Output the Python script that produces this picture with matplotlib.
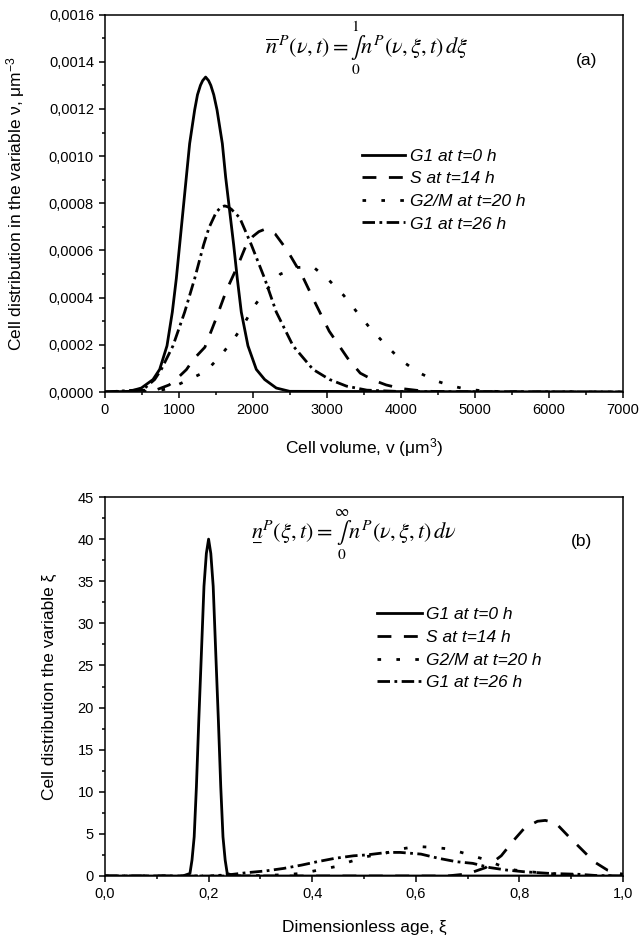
import matplotlib
matplotlib.use('Agg')
import matplotlib.pyplot as plt
from matplotlib.ticker import MultipleLocator, FuncFormatter

plt.rcParams['font.family'] = ['Liberation Sans', 'DejaVu Sans']
plt.rcParams['mathtext.fontset'] = 'custom'
plt.rcParams['mathtext.rm'] = 'Liberation Sans'
plt.rcParams['mathtext.it'] = 'Liberation Sans:italic'

labels = ['G1 at t=0 h', 'S at t=14 h', 'G2/M at t=20 h', 'G1 at t=26 h']

# (a) distribution over cell volume
v_g1_0 = [0, 333, 491, 649, 739, 838, 910, 964, 1009, 1054, 1099, 1144, 1212, 1250, 1290, 1320,
          1360, 1400, 1430, 1470, 1514, 1586, 1631, 1685, 1739, 1788, 1842, 1932, 2045, 2158,
          2315, 2495, 7000]
n_g1_0 = [0, 0.000003, 0.000017, 0.000053, 0.000096, 0.000196, 0.000339, 0.000481, 0.000624,
          0.000767, 0.00091, 0.001053, 0.001196, 0.00126, 0.0013, 0.00132, 0.001335, 0.00132,
          0.0013, 0.00126, 0.001196, 0.001053, 0.00091, 0.000767, 0.000624, 0.000481, 0.000339,
          0.000196, 0.000096, 0.000053, 0.000017, 0.000003, 0]

v_s_14 = [0, 700, 866, 950, 1100, 1200, 1350, 1500, 1640, 1800, 1910, 2000, 2080, 2160, 2230,
          2300, 2464, 2670, 2850, 3030, 3280, 3450, 3630, 3800, 4000, 4300, 4600, 7000]
n_s_14 = [0, 0.00001, 0.00003, 0.00005, 0.000095, 0.00014, 0.00019, 0.00031, 0.00043, 0.00054,
          0.000624, 0.00066, 0.00068, 0.00069, 0.000685, 0.00067, 0.0006, 0.00049, 0.000372,
          0.000258, 0.000143, 0.00008, 0.00005, 0.00003, 0.000015, 0.000004, 0.000001, 0]

v_g2m_20 = [0, 672, 893, 1114, 1362, 1560, 1740, 1885, 2015, 2180, 2370, 2600, 2811, 3015, 3225,
            3412, 3585, 3800, 4000, 4220, 4450, 4670, 4885, 5110, 5330, 5600, 7000]
n_g2m_20 = [0, 0.000003, 0.000017, 0.00005, 0.000087, 0.000153, 0.000224, 0.000292, 0.000364,
            0.000432, 0.0005, 0.000528, 0.000531, 0.000478, 0.00041, 0.000336, 0.00027, 0.000198,
            0.000135, 0.000086, 0.00005, 0.000027, 0.000012, 0.000005, 0.000002, 0, 0]

v_g1_26 = [0, 514, 671, 761, 919, 1077, 1212, 1333, 1405, 1500, 1560, 1617, 1660, 1707, 1820,
           1978, 2158, 2315, 2541, 2811, 3036, 3264, 3539, 4000, 7000]
n_g1_26 = [0, 0.00001, 0.000053, 0.000096, 0.000196, 0.000339, 0.000481, 0.000624, 0.000696,
           0.00076, 0.000782, 0.000789, 0.000785, 0.000775, 0.000739, 0.000624, 0.000481,
           0.000339, 0.000196, 0.000096, 0.000053, 0.000025, 0.000008, 0.000002, 0]

# (b) distribution over dimensionless age
xi_g1_0 = [0, 0.15, 0.164, 0.168, 0.1722, 0.1765, 0.1811, 0.1861, 0.1911, 0.1957, 0.2, 0.2043,
           0.2089, 0.2139, 0.2189, 0.2235, 0.2278, 0.232, 0.236, 0.25, 1.0]
m_g1_0 = [0, 0, 0.3, 1.9, 4.65, 10.6, 18.5, 26.4, 34.4, 38.3, 40, 38.3, 34.4, 26.4, 18.5, 10.6,
          4.65, 1.9, 0.3, 0, 0]

xi_s_14 = [0, 0.66, 0.70, 0.735, 0.765, 0.79, 0.81, 0.835, 0.85, 0.87, 0.895, 0.918, 0.944,
           0.97, 1.0]
m_s_14 = [0, 0, 0.25, 1.0, 2.4, 4.3, 5.7, 6.5, 6.6, 6.3, 4.7, 3.3, 1.7, 0.7, 0.2]

xi_g2m_20 = [0, 0.25, 0.3, 0.345, 0.379, 0.412, 0.444, 0.473, 0.505, 0.541, 0.57, 0.602, 0.634,
             0.666, 0.699, 0.731, 0.76, 0.776, 0.792, 0.821, 0.854, 0.886, 0.93, 1.0]
m_g2m_20 = [0, 0, 0.05, 0.15, 0.3, 0.7, 1.1, 1.7, 2.3, 2.7, 3.2, 3.5, 3.4, 3.2, 2.6, 2.0, 1.3,
            0.9, 0.7, 0.5, 0.3, 0.2, 0.05, 0]

xi_g1_26 = [0, 0.2, 0.24, 0.275, 0.31, 0.345, 0.38, 0.41, 0.444, 0.48, 0.505, 0.545, 0.57, 0.61,
            0.644, 0.678, 0.71, 0.743, 0.776, 0.81, 0.86, 0.915, 0.95, 1.0]
m_g1_26 = [0, 0, 0.15, 0.4, 0.6, 0.9, 1.3, 1.7, 2.1, 2.4, 2.5, 2.8, 2.8, 2.6, 2.1, 1.7, 1.5,
           1.0, 0.7, 0.5, 0.3, 0.2, 0.05, 0]

lw = 2.0
styles = [dict(linestyle='-'),
          dict(linestyle=(0, (5, 4.5))),
          dict(linestyle=(0, (1.3, 5.5))),
          dict(linestyle=(0, (4.5, 1.6, 1, 1.6)))]

fig = plt.figure(figsize=(6.39, 9.39), dpi=100)
ax1 = fig.add_axes([0.1643, 0.5825, 0.8106, 0.402])
ax2 = fig.add_axes([0.1643, 0.0671, 0.8106, 0.4036])

for xs, ys, lab, st in zip([v_g1_0, v_s_14, v_g2m_20, v_g1_26],
                           [n_g1_0, n_s_14, n_g2m_20, n_g1_26], labels, styles):
    ax1.plot(xs, ys, color='black', lw=lw, label=lab, **st)

for xs, ys, lab, st in zip([xi_g1_0, xi_s_14, xi_g2m_20, xi_g1_26],
                           [m_g1_0, m_s_14, m_g2m_20, m_g1_26], labels, styles):
    ax2.plot(xs, ys, color='black', lw=lw, label=lab, **st)

ax1.set_xlim(0, 7000)
ax1.set_ylim(0, 0.0016)
ax1.xaxis.set_major_locator(MultipleLocator(1000))
ax1.xaxis.set_minor_locator(MultipleLocator(500))
ax1.yaxis.set_major_locator(MultipleLocator(0.0002))
ax1.yaxis.set_minor_locator(MultipleLocator(0.0001))
ax1.yaxis.set_major_formatter(FuncFormatter(lambda v, p: f"{v:.4f}".replace('.', ',')))
ax1.xaxis.set_major_formatter(FuncFormatter(lambda v, p: f"{v:.0f}"))

ax2.set_xlim(0, 1)
ax2.set_ylim(0, 45)
ax2.xaxis.set_major_locator(MultipleLocator(0.2))
ax2.xaxis.set_minor_locator(MultipleLocator(0.1))
ax2.yaxis.set_major_locator(MultipleLocator(5))
ax2.yaxis.set_minor_locator(MultipleLocator(2.5))
ax2.xaxis.set_major_formatter(FuncFormatter(lambda v, p: f"{v:.1f}".replace('.', ',')))
ax2.yaxis.set_major_formatter(FuncFormatter(lambda v, p: f"{v:.0f}"))

for ax in (ax1, ax2):
    for s in ax.spines.values():
        s.set_linewidth(1.1)
    ax.tick_params(which='both', direction='out', top=False, right=False, width=1.1)
    ax.tick_params(which='major', length=4.5, labelsize=10.5)
    ax.tick_params(which='minor', length=2.5)

ax1.set_xlabel(r"Cell volume, v ($\mathrm{\mu}$m$^3$)", fontsize=12.5, va='center')
ax1.xaxis.set_label_coords(0.5, -0.146)
ax1.set_ylabel(r"Cell distribution in the variable ν, μm$^{-3}$", fontsize=12.5, va='center')
ax1.yaxis.set_label_coords(-0.172, 0.5)

ax2.set_xlabel("Dimensionless age, ξ", fontsize=12.5, va='center')
ax2.xaxis.set_label_coords(0.5, -0.135)
ax2.set_ylabel("Cell distribution the variable ξ", fontsize=12.5, va='center')
ax2.yaxis.set_label_coords(-0.108, 0.5)

leg_font = dict(style='italic', size=12.5)
ax1.legend(loc='upper left', bbox_to_anchor=(0.496, 0.645), frameon=False, prop=leg_font,
           handlelength=2.5, handletextpad=0.25, labelspacing=0.43, borderpad=0, borderaxespad=0)
ax2.legend(loc='upper left', bbox_to_anchor=(0.525, 0.709), frameon=False, prop=leg_font,
           handlelength=2.6, handletextpad=0.25, labelspacing=0.43, borderpad=0, borderaxespad=0)

ax1.text(0.505, 0.912,
         r"$\overline{n}^{\,P}(\nu,t)=\underset{0}{\overset{1}{\int}}n^{P}(\nu,\xi,t)\,d\xi$",
         transform=ax1.transAxes, ha='center', va='center', fontsize=16, math_fontfamily='stix')
ax2.text(0.48, 0.9,
         r"$\underset{-}{n}^{P}(\xi,t)=\underset{0}{\overset{\infty}{\int}}n^{P}(\nu,\xi,t)\,d\nu$",
         transform=ax2.transAxes, ha='center', va='center', fontsize=16, math_fontfamily='stix')

ax1.text(0.93, 0.878, "(a)", transform=ax1.transAxes, ha='center', va='center', fontsize=12.5)
ax2.text(0.92, 0.883, "(b)", transform=ax2.transAxes, ha='center', va='center', fontsize=12.5)

fig.savefig('out.png', dpi=100)
